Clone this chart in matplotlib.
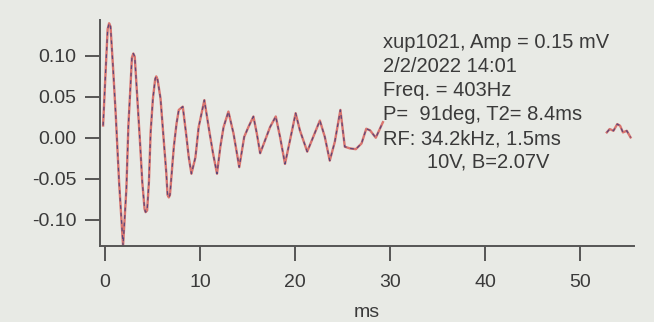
import matplotlib
matplotlib.use("Agg")
import matplotlib.pyplot as plt

# ---- data ----
t_ms = [-0.18, 0.10, 0.30, 0.45, 0.60, 0.87, 1.15, 1.50, 1.92, 2.27, 2.48,
        2.72, 2.85, 3.00, 3.15, 3.42, 3.70, 3.94, 4.18, 4.29, 4.45, 4.64,
        4.82, 5.06, 5.30, 5.41, 5.55, 5.86, 6.21, 6.46, 6.60, 6.73, 6.85,
        7.26, 7.54, 7.78, 8.20, 8.59, 8.83, 9.11, 9.53, 9.87, 10.47,
        10.92, 11.38, 11.80, 12.15, 12.49, 13.00, 13.54, 14.14, 14.66, 15.10,
        15.63, 15.99, 16.34, 16.86, 17.38, 17.98, 18.43, 18.95, 19.48, 20.07,
        20.52, 21.29, 21.92, 22.62, 23.14, 23.66, 24.19, 24.78, 25.24, 25.76,
        26.40, 27.00, 27.50, 27.90, 28.50, 29.25]
signal_mv = [0.015, 0.085, 0.133, 0.140, 0.136, 0.085, 0.028, -0.054, -0.132,
             -0.062, 0.015, 0.068, 0.098, 0.103, 0.099, 0.048, -0.005, -0.054,
             -0.087, -0.091, -0.089, -0.054, 0.007, 0.048, 0.072, 0.075, 0.071,
             0.048, -0.005, -0.042, -0.070, -0.073, -0.070, -0.011, 0.017,
             0.034, 0.038, 0.001, -0.024, -0.044, -0.024, 0.013, 0.046, 0.013,
             -0.019, -0.044, -0.011, 0.013, 0.032, 0.005, -0.036, 0.001, 0.013,
             0.026, 0.005, -0.019, -0.003, 0.013, 0.026, 0.001, -0.032, -0.003,
             0.030, 0.009, -0.017, 0.001, 0.021, 0.001, -0.028, -0.005, 0.034,
             -0.011, -0.013, -0.014, -0.007, 0.011, 0.009, 0.000, 0.019]
tail_t_ms = [52.8, 53.1, 53.5, 53.9, 54.2, 54.5, 54.9, 55.3]
tail_mv = [0.0065, 0.0106, 0.0085, 0.0167, 0.0146, 0.0065, 0.0085, 0.0004]

x_ticks = [0, 10, 20, 30, 40, 50]
y_ticks = [0.10, 0.05, 0.00, -0.05, -0.10]
y_tick_labels = ["0.10", "0.05", "0.00", "-0.05", "-0.10"]

info_lines = ["xup1021, Amp = 0.15 mV", "2/2/2022 14:01", "Freq. = 403Hz",
              "P=  91deg, T2= 8.4ms", "RF: 34.2kHz, 1.5ms"]
info_last = "10V, B=2.07V"

# ---- figure ----
bg = "#e8eae5"
ink = "#3a3a3a"
plt.rcParams["font.family"] = ["Liberation Sans", "DejaVu Sans"]

fig = plt.figure(figsize=(6.54, 3.22), dpi=100, facecolor=bg)
ax = fig.add_axes([0.153, 0.2345, 0.817, 0.7035], facecolor=bg)

for tt, vv in [(t_ms, signal_mv), (tail_t_ms, tail_mv)]:
    ax.plot(tt, vv, color="#d9756f", lw=1.7, solid_joinstyle="round")
    ax.plot(tt, vv, color="#4a3f7a", lw=0.9, ls=(0, (3, 3)), alpha=0.85)

ax.set_xlim(-0.5, 55.7)
ax.set_ylim(-0.133, 0.144)
ax.set_xticks(x_ticks)
ax.set_yticks(y_ticks)
ax.set_yticklabels(y_tick_labels)
ax.set_xlabel("ms", fontsize=14, color=ink, labelpad=9)

for s in ["top", "right"]:
    ax.spines[s].set_visible(False)
for s in ["left", "bottom"]:
    ax.spines[s].set_color("#555555")
    ax.spines[s].set_linewidth(1.4)
ax.tick_params(axis="both", direction="out", length=11, width=1.4,
               color="#555555", labelsize=14, labelcolor=ink, pad=6)
ax.tick_params(axis="x", pad=9)

for i, line in enumerate(info_lines):
    fig.text(0.586, 1 - (42 + 24.2 * i) / 322, line, fontsize=14.5,
             color=ink, va="center", ha="left")
fig.text(0.653, 1 - 162 / 322, info_last, fontsize=14.5, color=ink,
         va="center", ha="left")

fig.savefig("out.png", dpi=100, facecolor=bg)
